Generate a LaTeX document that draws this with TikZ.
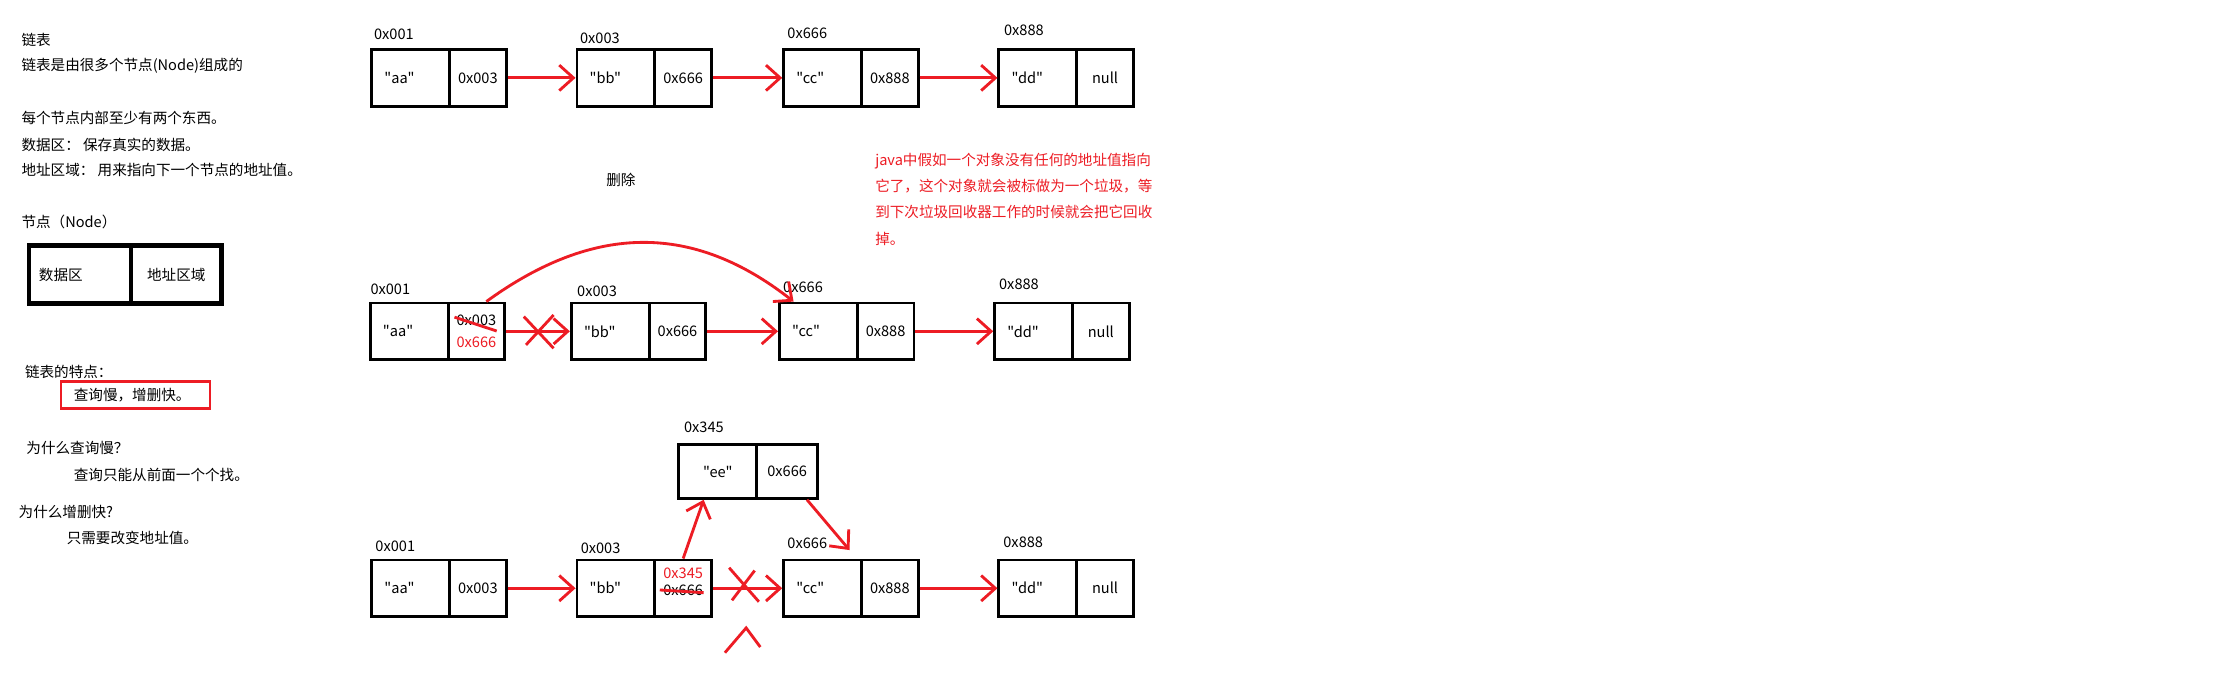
\documentclass[tikz,border=0pt]{standalone}
\usepackage{fontspec}
\setmainfont{Noto Sans CJK SC}[Ligatures=TeXOff]
\usepackage{tikz}
\usetikzlibrary{arrows.meta,positioning}
\definecolor{paintred}{RGB}{237,28,36}

\begin{document}
\begin{tikzpicture}[x=1pt,y=-1pt,>={Straight Barb[length=10pt,width=18pt]},
		font=\fontsize{10.3}{12}\selectfont,node distance=47.5pt,
		cell/.style={draw,line width=2pt,minimum height=40pt,inner sep=0pt},
		datacell/.style={cell,text width=37pt,inner xsep=9pt,align=left},
		addrcell/.style={cell,minimum width=40pt,align=center},
		addrtag/.style={anchor=west,inner sep=0pt},
		redarrow/.style={->,draw=paintred,line width=2pt},
		redstroke/.style={draw=paintred,line width=2pt}]
		\useasboundingbox[fill=white] (0,0) rectangle (1568,482);
		\node (title) [addrtag] at (15,28) {链表};
		\node (intro) [addrtag] at (15,46.5) {链表是由很多个节点(Node)组成的};
		\node (each) [addrtag] at (15,83.5) {每个节点内部至少有两个东西。};
		\node (datadef) [addrtag] at (15,102.5) {数据区： 保存真实的数据。};
		\node (addrdef) [addrtag] at (15,120) {地址区域： 用来指向下一个节点的地址值。};
		\node (nodehead) [addrtag] at (15,156.5) {节点（Node）};
		\node (nd) [datacell,line width=3.3pt,minimum height=41pt,text width=58pt,inner xsep=7pt] at (56.5,194) {数据区};
		\node (ndp) [addrcell,line width=3.3pt,minimum height=41pt,minimum width=64pt,node distance=68pt,right of=nd] {地址区域};
		\node (feat) [addrtag] at (17.5,262.5) {链表的特点：};
		\node (fast) [draw=paintred,line width=1.6pt,anchor=west,minimum height=19pt,text width=87pt,inner xsep=9pt,align=left] at (42.4,279) {查询慢，增删快。};
		\node (whyslow) [addrtag] at (18.5,316.5) {为什么查询慢？};
		\node (slow) [addrtag] at (52,335.5) {查询只能从前面一个个找。};
		\node (whyfast) [addrtag] at (13,361.5) {为什么增删快?};
		\node (fastwhy) [addrtag] at (47,380) {只需要改变地址值。};
		\node (del) [addrtag] at (428,127) {删除};
		\node (gc) [anchor=north west,inner sep=0pt,align=left,text=paintred,font=\fontsize{10.3}{18.5}\selectfont] at (618,108) {java中假如一个对象没有任何的地址值指向\\它了，这个对象就会被标做为一个垃圾，等\\到下次垃圾回收器工作的时候就会把它回收\\掉。};
		\node (aa1) [datacell] at (290,55) {"aa"};
		\node (aa1p) [addrcell,right of=aa1] {0x003};
		\node (bb1) [datacell] at (435,55) {"bb"};
		\node (bb1p) [addrcell,right of=bb1] {0x666};
		\node (cc1) [datacell] at (581,55) {"cc"};
		\node (cc1p) [addrcell,right of=cc1] {0x888};
		\node (dd1) [datacell] at (733,55) {"dd"};
		\node (dd1p) [addrcell,right of=dd1] {null};
		\node (aa1t) [addrtag] at (264,24.5) {0x001};
		\node (bb1t) [addrtag] at (409.5,27) {0x003};
		\node (cc1t) [addrtag] at (556,23.5) {0x666};
		\node (dd1t) [addrtag] at (709,21.5) {0x888};
		\node (aa2) [datacell] at (289,234) {"aa"};
		\node (aa2p) [addrcell,right of=aa2] {0x003\\[3pt]\textcolor{paintred}{0x666}};
		\node (bb2) [datacell] at (431,234) {"bb"};
		\node (bb2p) [addrcell,right of=bb2] {0x666};
		\node (cc2) [datacell] at (578,234) {"cc"};
		\node (cc2p) [addrcell,right of=cc2] {0x888};
		\node (dd2) [datacell] at (730,234) {"dd"};
		\node (dd2p) [addrcell,right of=dd2] {null};
		\node (aa2t) [addrtag] at (261.5,204) {0x001};
		\node (bb2t) [addrtag] at (407.5,205.5) {0x003};
		\node (cc2t) [addrtag] at (553,203) {0x666};
		\node (dd2t) [addrtag] at (705.5,201) {0x888};
		\node (ee) [datacell,align=center,minimum height=38pt] at (507,333) {"ee"};
		\node (eep) [addrcell,minimum height=38pt,minimum width=43pt,node distance=49pt,right of=ee] {0x666};
		\node (eet) [addrtag] at (483,302) {0x345};
		\node (aa3) [datacell] at (290,415.5) {"aa"};
		\node (aa3p) [addrcell,right of=aa3] {0x003};
		\node (bb3) [datacell] at (435,415.5) {"bb"};
		\node (bb3p) [addrcell,right of=bb3] {\textcolor{paintred}{0x345}\\0x666\\[-3pt]\mbox{}};
		\node (cc3) [datacell] at (581,415.5) {"cc"};
		\node (cc3p) [addrcell,right of=cc3] {0x888};
		\node (dd3) [datacell] at (733,415.5) {"dd"};
		\node (dd3p) [addrcell,right of=dd3] {null};
		\node (aa3t) [addrtag] at (265,385.5) {0x001};
		\node (bb3t) [addrtag] at (410,387.5) {0x003};
		\node (cc3t) [addrtag] at (556,384) {0x666};
		\node (dd3t) [addrtag] at (708.5,383) {0x888};
		\draw[redarrow] (aa1p) -- (bb1);
		\draw[redarrow] (bb1p) -- (cc1);
		\draw[redarrow] (cc1p) -- (dd1);
		\draw[redarrow] (aa2p) -- (bb2);
		\draw[redarrow] (bb2p) -- (cc2);
		\draw[redarrow] (cc2p) -- (dd2);
		\draw[redarrow] ([xshift=7pt]aa2p.north) .. controls +(77,-56) and +(-70,-55) .. ([xshift=11pt]cc2.north west);
		\draw[redstroke] (321,224) -- (350.8,233.8);
		\draw[redstroke] (370,223.6) -- (391,246);
		\draw[redstroke] (391,222.5) -- (371.5,243.6);
		\draw[redarrow] (aa3p) -- (bb3);
		\draw[redarrow] (bb3p) -- (cc3);
		\draw[redarrow] (cc3p) -- (dd3);
		\draw[redarrow] (bb3p.north) -- ([xshift=-10pt]ee.south);
		\draw[redarrow] ([xshift=14pt]eep.south) -- ([shift={(19,-6)}]cc3.north);
		\draw[redstroke] (466,416.7) -- (497,418.6);
		\draw[redstroke] (515,401) -- (536,425);
		\draw[redstroke] (533,403) -- (517,424);
		\draw[redstroke] (512,461) -- (527,443.5) -- (537,457);
		\end{tikzpicture}
\end{document}
